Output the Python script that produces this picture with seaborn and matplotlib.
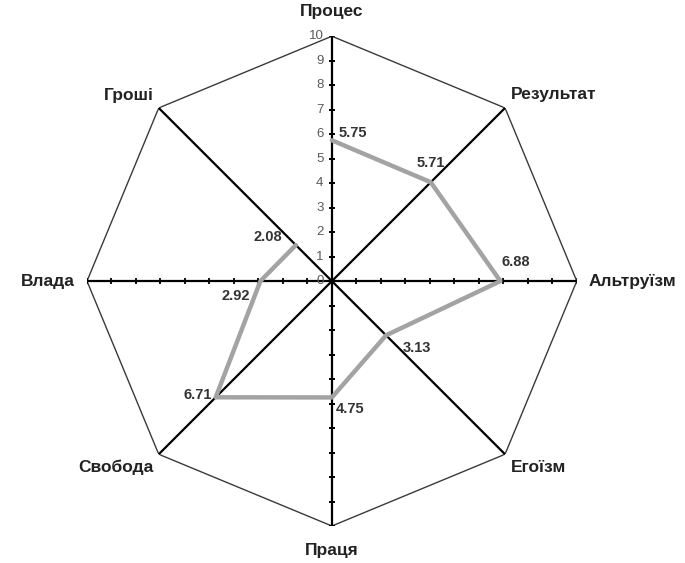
import numpy as np
import matplotlib
matplotlib.use("Agg")
import matplotlib.pyplot as plt
import seaborn as sns

# chart data
categories = ["Процес", "Результат", "Альтруїзм", "Егоїзм",
              "Праця", "Свобода", "Влада", "Гроші"]
values = [5.75, 5.71, 6.88, 3.13, 4.75, 6.71, 2.92, 2.08]
value_labels = ["5.75", "5.71", "6.88", "3.13", "4.75", "6.71", "2.92", "2.08"]
r_ticks = list(range(0, 11))

sns.set_style("white")
plt.rcParams["font.family"] = ["Liberation Sans", "DejaVu Sans"]

n = len(categories)
angles = np.linspace(0, 2 * np.pi, n, endpoint=False)
rmax = r_ticks[-1]

fig = plt.figure(figsize=(6.85, 5.63), dpi=100)
ax = fig.add_axes([0.127, 0.0657, 0.715, 0.870], projection="polar")
ax.set_theta_offset(np.pi / 2)
ax.set_theta_direction(-1)
ax.set_ylim(0, rmax)
ax.grid(False)
ax.spines["polar"].set_visible(False)
ax.set_xticks([])
ax.set_yticks([])
ax.patch.set_alpha(0)

# outer octagon
oct_a = np.append(angles, angles[0])
ax.plot(oct_a, [rmax] * (n + 1), color="#3a3a3a", lw=1.0, zorder=1)

# spokes, with tick marks on the horizontal / vertical ones
for i, a in enumerate(angles):
    ax.plot([a, a], [0, rmax], color="black", lw=1.6, zorder=2)
    if i % 2 == 0:
        mk = "_" if i % 4 == 0 else "|"
        ax.plot([a] * rmax, r_ticks[1:], ls="none", marker=mk,
                ms=4.5, mew=1.3, color="black", zorder=2)

# value polygon
poly_a = np.append(angles, angles[0])
poly_v = values + [values[0]]
sns.lineplot(x=poly_a, y=poly_v, sort=False, ax=ax, color="#a3a3a3",
             lw=3.2, zorder=3)
ax.set_xlabel("")
ax.set_ylabel("")

# radial tick labels on the vertical axis
for t in r_ticks:
    ax.annotate(str(t), xy=(0, t), xytext=(-6, 0), textcoords="offset points",
                ha="right", va="center", fontsize=9.5, color="#5a5a5a")

# category labels
label_pos = [
    (0, 11.0, "center", "center"),
    (angles[1], 10.35, "left", "bottom"),
    (angles[2], 10.5, "left", "center"),
    (angles[3], 10.35, "left", "top"),
    (angles[4], 11.0, "center", "center"),
    (angles[5], 10.3, "right", "top"),
    (angles[6], 10.5, "right", "center"),
    (angles[7], 10.3, "right", "bottom"),
]
for cat, (a, r, ha, va) in zip(categories, label_pos):
    ax.text(a, r, cat, ha=ha, va=va, fontsize=12.5, fontweight="bold",
            color="#222222")

# value labels
offsets = [(5, 5, "left", "center"), (0, 14, "center", "center"),
           (1, 14, "left", "center"), (12, -9, "left", "center"),
           (3, -8, "left", "center"), (-3, 2, "right", "center"),
           (-18, -11, "center", "center"), (-20, 6, "center", "center")]
for a, v, lab, (dx, dy, ha, va) in zip(angles, values, value_labels, offsets):
    ax.annotate(lab, xy=(a, v), xytext=(dx, dy), textcoords="offset points",
                ha=ha, va=va, fontsize=10.5, fontweight="bold",
                color="#333333")

fig.savefig("out.png", dpi=100)
